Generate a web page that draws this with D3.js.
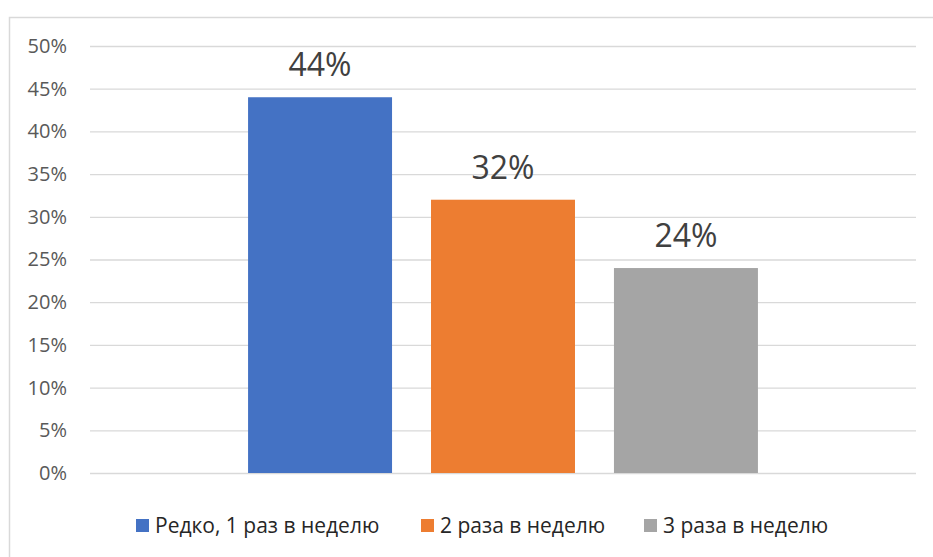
<!DOCTYPE html>
<html>
<head>
<meta charset="utf-8">
<script src="https://cdn.jsdelivr.net/npm/d3@7"></script>
<style>
  body { margin: 0; background: #fff; }
  svg { display: block; font-family: "Open Sans", "Noto Sans", sans-serif; }
</style>
</head>
<body>
<svg id="chart" width="933" height="557"></svg>
<script>
const series = ["Редко, 1 раз в неделю", "2 раза в неделю", "3 раза в неделю"];
const values = [0.44, 0.32, 0.24];
const seriesColors = ["#4472C4", "#ED7D31", "#A5A5A5"];
const yTicks = [0, 0.05, 0.1, 0.15, 0.2, 0.25, 0.3, 0.35, 0.4, 0.45, 0.5];

const svg = d3.select("#chart");
const plot = { left: 90, right: 916, top: 46, bottom: 473 };

// chart frame
svg.append("rect")
  .attr("x", 9.5).attr("y", 17.5)
  .attr("width", 940).attr("height", 560)
  .attr("fill", "none").attr("stroke", "#d9d9d9").attr("stroke-width", 1.5);

const x = d3.scaleBand()
  .domain(series)
  .range([plot.left, plot.right])
  .paddingInner(0.213)
  .paddingOuter(0.864);

const y = d3.scaleLinear().domain([0, 0.5]).range([plot.bottom, plot.top]);

// gridlines + tick labels
svg.append("g")
  .attr("transform", `translate(${plot.left},0)`)
  .call(d3.axisLeft(y).tickValues(yTicks).tickSize(-(plot.right - plot.left)).tickPadding(23).tickFormat(d3.format(".0%")))
  .call(g => g.select(".domain").remove())
  .call(g => g.selectAll(".tick line").attr("stroke", "#d9d9d9").attr("stroke-width", 1.3))
  .call(g => g.selectAll(".tick text").attr("fill", "#595959").attr("font-size", 20)
    .attr("font-family", "'Open Sans', sans-serif"));

const data = series.map((s, i) => ({ name: s, value: values[i], color: seriesColors[i] }));

svg.selectAll("rect.bar")
  .data(data)
  .join("rect")
  .attr("class", "bar")
  .attr("x", d => x(d.name))
  .attr("y", d => y(d.value))
  .attr("width", x.bandwidth())
  .attr("height", d => y(0) - y(d.value))
  .attr("fill", d => d.color);

svg.selectAll("text.value")
  .data(data)
  .join("text")
  .attr("class", "value")
  .attr("x", d => x(d.name) + x.bandwidth() / 2)
  .attr("y", d => y(d.value) - 21)
  .attr("text-anchor", "middle")
  .attr("fill", "#404040")
  .attr("font-size", 32)
  .text(d => d3.format(".0%")(d.value));

// legend
const legendX = [136, 421, 644];
const legend = svg.selectAll("g.legend")
  .data(data)
  .join("g")
  .attr("class", "legend")
  .attr("transform", (d, i) => `translate(${legendX[i]},525)`);

legend.append("rect")
  .attr("x", 0).attr("y", -6)
  .attr("width", 13).attr("height", 13)
  .attr("fill", d => d.color);

legend.append("text")
  .attr("x", 19).attr("y", 7.5)
  .attr("fill", "#262626")
  .attr("font-size", 21)
  .text(d => d.name);
</script>
</body>
</html>
